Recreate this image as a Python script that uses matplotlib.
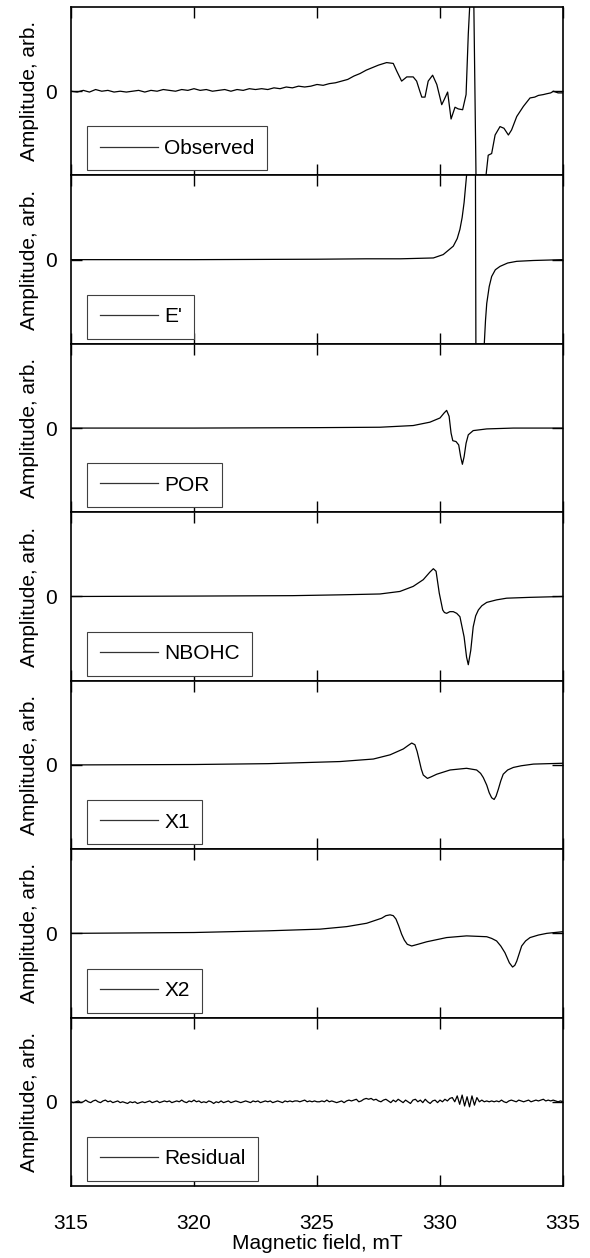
import numpy as np
import matplotlib.pyplot as plt

plt.rcParams['font.family'] = ['Liberation Sans', 'DejaVu Sans']

# === Dane (pole [mT], amplituda [arb.]) ===
obs_field = [315.00, 315.25, 315.50, 315.75, 316.00, 316.25, 316.50, 316.75, 317.00, 317.25,
             317.50, 317.75, 318.00, 318.25, 318.50, 318.75, 319.00, 319.25, 319.50, 319.75,
             320.00, 320.25, 320.50, 320.75, 321.00, 321.25, 321.50, 321.75, 322.00, 322.25,
             322.50, 322.75, 323.00, 323.25, 323.50, 323.75, 324.00, 324.25, 324.50, 324.75,
             325.00, 325.25, 325.50, 325.75, 326.00, 326.25, 326.50, 326.75, 327.00, 327.25,
             327.50, 327.83, 328.10, 328.24, 328.44, 328.65, 328.91, 329.05, 329.18, 329.26,
             329.39, 329.52, 329.70, 329.87, 330.07, 330.17, 330.31, 330.45, 330.61, 330.74,
             330.92, 331.06, 331.15, 331.22, 331.29, 331.42, 331.55, 331.87, 331.96, 332.10,
             332.24, 332.44, 332.60, 332.78, 332.91, 333.12, 333.39, 333.66, 333.85, 334.00,
             334.20, 334.34, 334.50, 334.61, 334.80, 335.00]
obs_amp = [0.00, -0.01, 0.01, -0.01, 0.02, 0.00, 0.01, -0.01, 0.00, -0.01,
           0.00, 0.01, -0.01, 0.01, 0.00, 0.02, 0.01, 0.00, 0.02, 0.01,
           0.03, 0.01, 0.02, 0.00, 0.01, 0.02, 0.00, 0.02, 0.01, 0.03,
           0.02, 0.03, 0.02, 0.04, 0.03, 0.05, 0.04, 0.06, 0.05, 0.06,
           0.08, 0.07, 0.09, 0.10, 0.12, 0.14, 0.18, 0.21, 0.25, 0.28,
           0.31, 0.34, 0.33, 0.24, 0.12, 0.17, 0.17, 0.12, 0.00, -0.07,
           -0.07, 0.12, 0.19, 0.08, -0.16, -0.10, -0.01, -0.33, -0.19, -0.21,
           -0.22, -0.04, 0.68, 1.08, 3.00, 0.00, -3.00, -1.00, -0.76, -0.74,
           -0.52, -0.42, -0.44, -0.52, -0.46, -0.30, -0.18, -0.08, -0.07, -0.05,
           -0.04, -0.03, -0.02, 0.00, -0.02, -0.02]

e_field = [315.0, 320.0, 325.0, 327.0, 328.4, 329.73, 330.13, 330.54, 330.70, 330.81,
           330.90, 330.98, 331.08, 331.20, 331.30, 331.38, 331.45, 331.52, 331.60, 331.70,
           331.80, 331.85, 331.90, 332.00, 332.10, 332.25, 332.44, 332.75, 333.12, 333.80,
           335.0]
e_amp = [0.0, 0.0, 0.005, 0.01, 0.01, 0.02, 0.06, 0.16, 0.25, 0.36,
         0.50, 0.68, 1.0, 2.0, 4.0, 8.0, 0.0, -8.0, -4.0, -2.0,
         -1.0, -0.72, -0.52, -0.32, -0.20, -0.12, -0.08, -0.04, -0.02, -0.01,
         0.0]

por_field = [315.0, 320.0, 325.0, 327.56, 328.91, 329.59, 330.00, 330.17, 330.27, 330.37,
             330.45, 330.52, 330.65, 330.76, 330.84, 330.91, 330.98, 331.06, 331.15, 331.35,
             331.90, 332.98, 335.0]
por_amp = [0.0, 0.0, 0.005, 0.01, 0.03, 0.07, 0.12, 0.18, 0.21, 0.14,
           -0.06, -0.15, -0.16, -0.20, -0.34, -0.43, -0.34, -0.18, -0.08, -0.03,
           -0.01, 0.0, 0.0]

nbohc_field = [315.0, 320.0, 324.0, 326.0, 327.56, 328.37, 328.91, 329.32, 329.59, 329.73,
               329.84, 329.97, 330.11, 330.18, 330.27, 330.40, 330.54, 330.68, 330.81, 330.98,
               331.08, 331.15, 331.25, 331.35, 331.45, 331.56, 331.70, 331.90, 332.30, 332.71,
               333.66, 335.0]
nbohc_amp = [0.0, 0.005, 0.01, 0.02, 0.03, 0.06, 0.12, 0.20, 0.29, 0.33,
             0.30, 0.04, -0.16, -0.19, -0.20, -0.18, -0.18, -0.20, -0.24, -0.48,
             -0.72, -0.81, -0.64, -0.36, -0.23, -0.16, -0.11, -0.07, -0.04, -0.02,
             -0.01, 0.0]

x1_field = [315.0, 320.0, 323.0, 325.93, 327.29, 327.97, 328.51, 328.70, 328.85, 328.98,
            329.07, 329.16, 329.24, 329.32, 329.49, 329.65, 329.87, 330.41, 331.08, 331.49,
            331.65, 331.76, 331.90, 332.00, 332.10, 332.20, 332.28, 332.37, 332.47, 332.57,
            332.75, 332.98, 333.30, 333.80, 335.0]
x1_amp = [0.0, 0.005, 0.015, 0.04, 0.07, 0.12, 0.19, 0.23, 0.26, 0.24,
          0.16, 0.05, -0.05, -0.12, -0.16, -0.14, -0.11, -0.06, -0.04, -0.06,
          -0.10, -0.15, -0.24, -0.33, -0.39, -0.41, -0.37, -0.29, -0.19, -0.11,
          -0.06, -0.03, -0.01, 0.01, 0.02]

x2_field = [315.0, 320.0, 323.0, 325.12, 326.21, 327.02, 327.63, 327.80, 327.97, 328.10,
            328.21, 328.32, 328.44, 328.55, 328.67, 328.85, 329.10, 329.46, 330.27, 331.08,
            331.90, 332.10, 332.30, 332.47, 332.64, 332.82, 332.95, 333.04, 333.12, 333.22,
            333.32, 333.48, 333.66, 334.00, 334.34, 335.0]
x2_amp = [0.0, 0.01, 0.03, 0.05, 0.08, 0.12, 0.18, 0.21, 0.22, 0.21,
          0.17, 0.09, -0.01, -0.08, -0.13, -0.15, -0.13, -0.10, -0.05, -0.03,
          -0.04, -0.06, -0.09, -0.15, -0.23, -0.35, -0.40, -0.38, -0.33, -0.24,
          -0.15, -0.09, -0.05, -0.02, 0.0, 0.02]

# residuum odczytane co 0.1 mT
res_amp = [0.00, -0.01, 0.00, 0.01, -0.01, 0.00, 0.02, 0.00, -0.01, 0.01,
           0.02, 0.00, -0.01, 0.01, 0.02, 0.00, 0.01, -0.01, 0.00, 0.01,
           -0.01, 0.00, -0.01, -0.02, 0.00, -0.01, 0.00, -0.02, -0.01, 0.00,
           -0.01, 0.00, 0.01, -0.01, 0.00, 0.01, -0.01, 0.00, 0.01, 0.00,
           0.01, -0.01, 0.00, 0.01, 0.00, 0.02, 0.00, -0.01, 0.01, 0.00,
           0.02, 0.00, 0.01, -0.01, 0.00, -0.01, 0.01, 0.00, -0.02, 0.00,
           -0.01, 0.01, -0.01, 0.00, 0.01, -0.01, 0.00, 0.01, 0.00, -0.01,
           0.00, 0.01, 0.00, -0.01, 0.01, 0.00, 0.01, -0.01, 0.00, 0.01,
           0.00, 0.01, -0.01, 0.00, 0.01, 0.00, -0.01, 0.01, 0.00, 0.01,
           0.00, 0.01, 0.01, 0.00, 0.01, 0.02, 0.00, 0.01, 0.00, 0.01,
           0.00, 0.00, 0.01, 0.00, 0.02, 0.00, 0.01, 0.00, -0.01, 0.00,
           0.01, -0.01, 0.01, 0.02, 0.01, 0.02, 0.03, 0.00, 0.01, 0.03,
           0.04, 0.03, 0.04, 0.02, 0.03, 0.01, 0.00, 0.02, 0.03, 0.01,
           -0.01, 0.02, 0.00, 0.03, 0.01, -0.01, 0.02, 0.00, -0.02, 0.02,
           0.03, 0.00, 0.02, -0.01, 0.03, 0.00, -0.02, 0.01, 0.02, -0.01,
           0.02, 0.00, 0.03, 0.01, 0.04, 0.05, 0.00, 0.07, -0.03, 0.08,
           -0.05, 0.06, -0.06, 0.07, -0.04, 0.05, 0.00, 0.02, 0.00, 0.01,
           0.00, 0.01, 0.00, 0.01, 0.00, 0.02, 0.00, -0.01, 0.01, 0.02,
           0.01, 0.00, 0.02, 0.01, 0.00, 0.01, 0.02, 0.00, 0.01, 0.02,
           0.01, 0.02, 0.03, 0.01, 0.02, 0.01, 0.02, 0.01, 0.00, 0.01,
           0.00]
res_field = np.linspace(315, 335, len(res_amp))

labels = ["Observed", "E'", "POR", "NBOHC", "X1", "X2", "Residual"]
series = [(obs_field, obs_amp), (e_field, e_amp), (por_field, por_amp),
          (nbohc_field, nbohc_amp), (x1_field, x1_amp), (x2_field, x2_amp),
          (res_field, res_amp)]
xticks = [315, 320, 325, 330, 335]

# === Wykres ===
fig, axes = plt.subplots(7, 1, sharex=True, figsize=(5.9, 12.58), dpi=100)
fig.subplots_adjust(left=71 / 590, right=563 / 590, top=1 - 7 / 1258,
                    bottom=1 - 1186 / 1258, hspace=0)

for ax, lab, (xf, ya) in zip(axes, labels, series):
    ax.plot(xf, ya, color='black', lw=0.9, label=lab)
    ax.set_xlim(315, 335)
    ax.set_ylim(-1, 1)
    ax.set_yticks([0])
    ax.set_yticklabels(['0'])
    ax.set_xticks(xticks)
    ax.tick_params(axis='both', direction='in', length=8, width=1,
                   top=True, right=True, labelsize=15, pad=10)
    ax.tick_params(axis='x', pad=20)
    for s in ax.spines.values():
        s.set_linewidth(1.2)
    ax.set_ylabel("Amplitude, arb.", fontsize=15)
    ax.yaxis.set_label_coords(-0.065, 0.5)
    leg = ax.legend(loc='lower left', bbox_to_anchor=(16 / 492, 5 / 167),
                    borderaxespad=0, fancybox=False, edgecolor='0.25',
                    framealpha=1, handlelength=2.8, handletextpad=0.3,
                    borderpad=0.6, fontsize=15)
    leg.get_frame().set_linewidth(0.8)
    leg.get_lines()[0].set_color('0.2')

axes[-1].set_xticklabels([str(t) for t in xticks])
axes[-1].set_xlabel("Magnetic field, mT", fontsize=15, labelpad=1)

plt.savefig("out.png", dpi=100)
